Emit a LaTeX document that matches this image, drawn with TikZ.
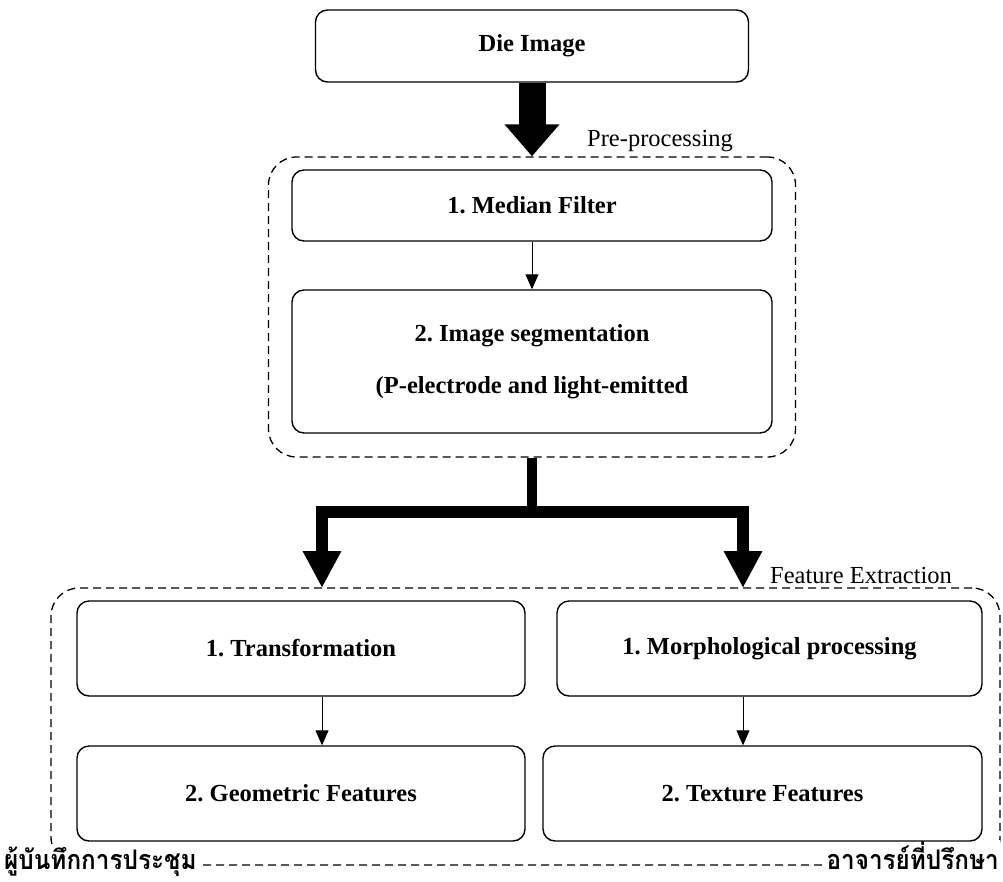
\documentclass[tikz,border=0pt]{standalone}
\usepackage{fontspec}
\setmainfont{Liberation Serif}
\newfontfamily\thaifont[Script=Thai, FakeStretch=0.9]{Loma}
\usetikzlibrary{arrows.meta}
\frenchspacing

\begin{document}
\begin{tikzpicture}[
    x=1pt, y=-1pt,
    stepbox/.style={draw, rounded corners=12pt, line width=1.4pt, inner sep=0pt,
                    font=\fontsize{24.5}{30}\selectfont\bfseries},
    group/.style={draw, dash pattern=on 8pt off 5pt, rounded corners=28pt,
                  line width=1.3pt, inner sep=0pt},
    tag/.style={anchor=west, inner sep=0pt, font=\fontsize{24.5}{30}\selectfont},
    thaitag/.style={fill=white, inner sep=1pt,
                    font=\thaifont\fontsize{27}{30}\selectfont\bfseries},
    flow/.style={line width=1pt, -{Triangle[width=13pt,length=15pt]}},
    bigflow/.style={line width=27pt, -{Triangle[width=53pt,length=32pt]}},
    branch/.style={line width=12pt, line join=miter, -{Triangle[width=36pt,length=37pt]}},
  ]
  \useasboundingbox (0,0) rectangle (1003,881);

  % pre-processing
  \node[stepbox, minimum width=433pt, minimum height=72pt] (die) at (532,46) {Die Image};
  \node[group, minimum width=527pt, minimum height=300pt] (pre) at (532,307) {};
  \node[tag] (prelabel) at (587,141) {Pre-processing};
  \node[stepbox, minimum width=480pt, minimum height=71pt] (median) at (532,205.5) {1. Median Filter};
  \node[stepbox, minimum width=480pt, minimum height=143pt, align=center] (seg) at (532,361.5)
    {2. Image segmentation\\[22pt](P-electrode and light-emitted};

  % feature extraction
  \node[group, minimum width=949pt, minimum height=277pt] (feat) at (525.5,726.5) {};
  \node[tag] (featlabel) at (770,575) {Feature Extraction};
  \node[thaitag, anchor=base west] (recorder) at (3,869) {ผู้บันทึกการประชุม};
  \node[thaitag, anchor=base east] (advisor) at (1000,869) {อาจารย์ที่ปรึกษา};
  \node[stepbox, minimum width=448pt, minimum height=95pt] (trans) at (301,648.5) {1. Transformation};
  \node[stepbox, minimum width=425pt, minimum height=95pt] (morph) at (769.5,648.5) {1. Morphological processing};
  \node[stepbox, minimum width=448pt, minimum height=95pt] (geo) at (301,793.5) {2. Geometric Features};
  \node[stepbox, minimum width=439pt, minimum height=95pt] (tex) at (762.5,793.5) {2. Texture Features};

  \coordinate (split) at (532,512);
  \coordinate (ltip) at (322,588);
  \coordinate (rtip) at (743,588);

  \draw[bigflow] (die) -- (pre);
  \draw[flow] (median) -- (seg);
  \draw[line width=10pt] (pre) -- (split);
  \draw[branch] (split) -| (ltip);
  \draw[branch] (split) -| (rtip);
  \draw[flow] (trans.south -| ltip) -- (geo.north -| ltip);
  \draw[flow] (morph.south -| rtip) -- (tex.north -| rtip);
\end{tikzpicture}
\end{document}
